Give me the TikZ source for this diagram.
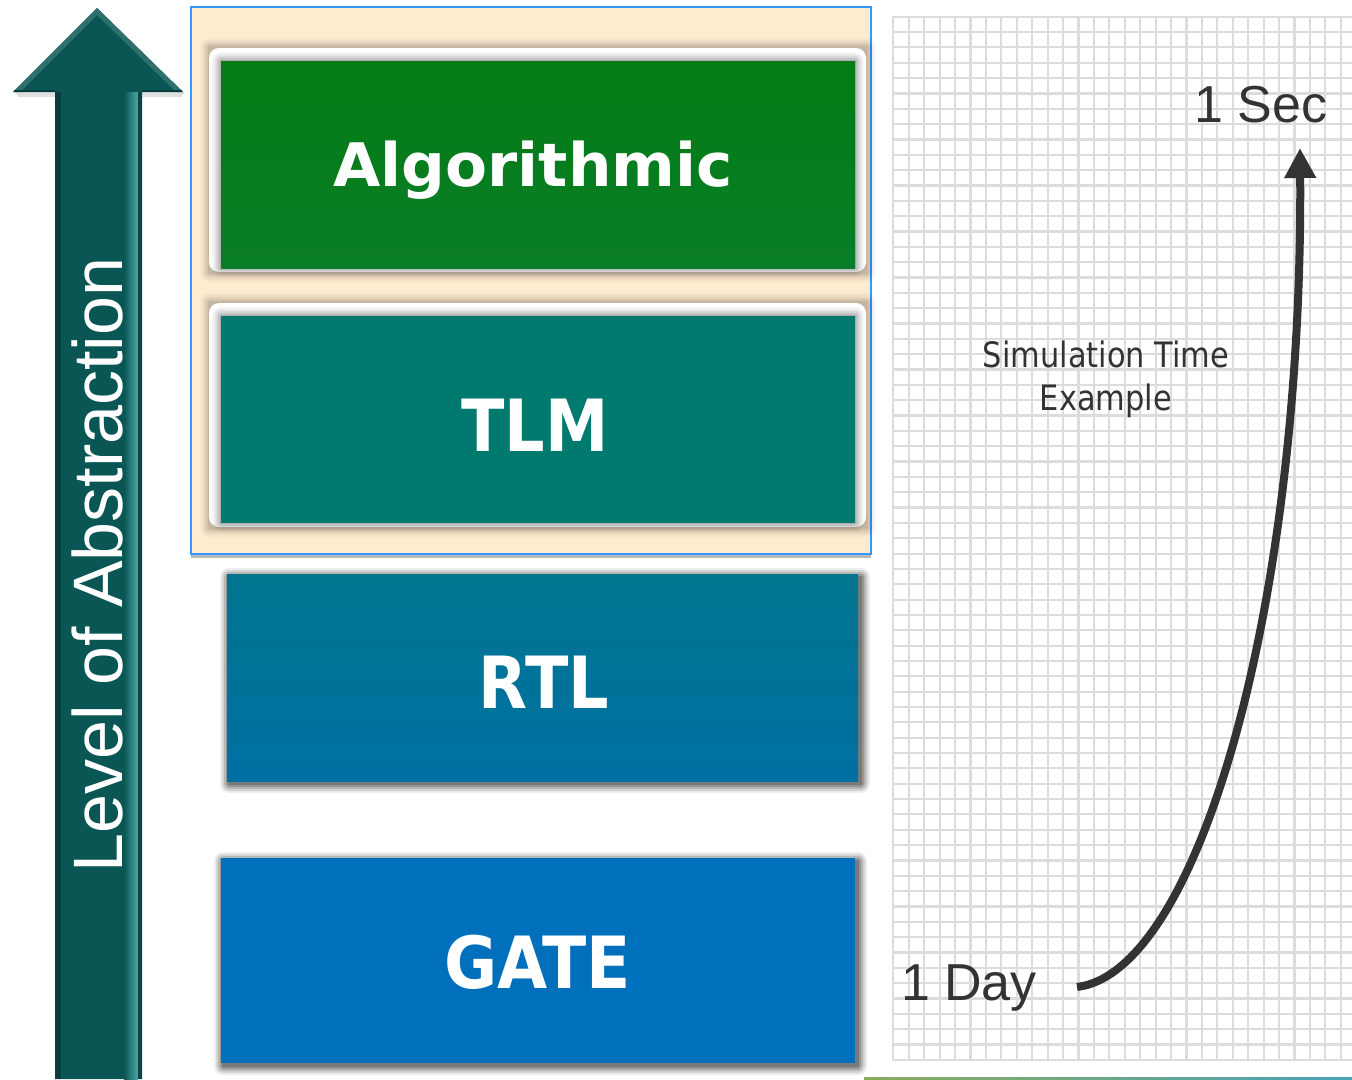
\documentclass[tikz,border=0pt]{standalone}
\usepackage{fontspec}
\setmainfont{Liberation Sans}
\newfontfamily\labelfont{DejaVu Sans}
\usetikzlibrary{arrows.meta}
\definecolor{arrowteal}{HTML}{0A5654}
\definecolor{arrowdark}{HTML}{073E3C}
\definecolor{arrowlight}{HTML}{4FA7A0}
\definecolor{beige}{HTML}{FFEBD0}
\definecolor{frameblue}{HTML}{3399FF}
\definecolor{algogreen}{HTML}{057C14}
\definecolor{algogreenb}{HTML}{0A7D28}
\definecolor{tlmteal}{HTML}{00796F}
\definecolor{rtltop}{HTML}{00758E}
\definecolor{rtlbot}{HTML}{0070A3}
\definecolor{gateblue}{HTML}{0070BC}
\definecolor{gridgray}{HTML}{DCDCDC}
\definecolor{inkgray}{HTML}{333333}
\definecolor{lineleft}{HTML}{8CAA5C}
\definecolor{lineright}{HTML}{4AA3B8}
\newcommand\softshade[5]{%
  \foreach \d/\o in {9/0.04,7/0.06,5/0.08,3/0.10,1/0.12}{%
    \fill[black,opacity=\o*#5,rounded corners=\d pt] (#1-\d,#2-\d) rectangle (#3+\d,#4+\d);}}
\begin{document}
\begin{tikzpicture}[x=1pt,y=-1pt,
  levelbox/.style={inner sep=0pt, minimum width=634pt, minimum height=207pt},
  boxlabel/.style={text=white, anchor=base, inner sep=0pt,
    font=\labelfont\bfseries\fontsize{60}{60}\selectfont},
  plainlabel/.style={text=inkgray, anchor=base, inner sep=0pt},
  gridline/.style={draw=gridgray, line width=2.2pt}]
\useasboundingbox (0,0) rectangle (1352,1079);
\fill[white] (0,0) rectangle (1352,1079);

% ---- grid ----
\foreach \i in {0,...,29}{
  \draw[gridline] (893.3+15.43*\i,16.7) -- (893.3+15.43*\i,1060);}
\foreach \j in {0,...,68}{
  \draw[gridline] (892,16.7+15.34*\j) -- (1352,16.7+15.34*\j);}
\shade[left color=lineleft, right color=lineright] (864,1077) rectangle (1352,1079);

% ---- abstraction arrow ----
\fill[black,opacity=0.12] (15,92) -- (55,92) -- (55,97) -- (19,97) -- cycle;
\fill[black,opacity=0.12] (142,92) -- (185,92) -- (181,97) -- (142,97) -- cycle;
\fill[arrowteal] (13,92) -- (97,8) -- (183,92) -- (142,92) -- (142,1079)
  -- (55,1079) -- (55,92) -- cycle;
\fill[arrowteal!85!white] (97,8) -- (183,92) -- (176,92) -- (97,15) -- cycle;
\fill[arrowteal!85!white] (97,8) -- (13,92) -- (20,92) -- (97,15) -- cycle;
\draw[arrowdark, line width=2pt] (14,91) -- (55,91);
\draw[arrowdark, line width=2pt] (142,91) -- (182,91);
\fill[arrowdark] (55,92) rectangle (61,1079);
\shade[left color=arrowteal, right color=arrowlight] (124,92) rectangle (138,1079);
\fill[arrowteal!80!black] (138,92) rectangle (142,1079);
\node[rotate=90, anchor=base, inner sep=0pt, text=white,
  font=\fontsize{70}{70}\selectfont] (abstr) at (122,565) {Level of Abstraction};

% ---- beige group ----
\fill[gray!55] (191,554) rectangle (871,558);
\filldraw[fill=beige, draw=frameblue, line width=1.5pt] (191,7) rectangle (871,554);

% Algorithmic frame
\softshade{209}{47}{867}{273}{0.6}
\fill[white, rounded corners=10pt] (209,48) rectangle (866,272);
\softshade{221}{61}{855}{268}{0.9}
\node[levelbox, top color=algogreen, bottom color=algogreenb] (algo) at (538,164.5) {};
\node[boxlabel] (algolbl) at (533,186) {\scalebox{1.02}[1]{Algorithmic}};

% TLM frame
\softshade{209}{302}{867}{528}{0.6}
\fill[white, rounded corners=10pt] (209,303) rectangle (866,527);
\softshade{221}{316}{855}{523}{0.9}
\node[levelbox, fill=tlmteal] (tlm) at (538,419.5) {};
\node[boxlabel] (tlmlbl) at (535,451) {\scalebox{1.06}[1.2]{TLM}};

% RTL
\softshade{229}{577}{861}{784}{1.7}
\node[levelbox, minimum width=631pt, top color=rtltop, bottom color=rtlbot] (rtl) at (542.5,677.5) {};
\node[boxlabel] (rtllbl) at (544,708) {\scalebox{1.06}[1.2]{RTL}};

% GATE
\softshade{223}{861}{858}{1066}{1.7}
\node[levelbox, minimum height=205pt, fill=gateblue] (gate) at (538,960.5) {};
\node[boxlabel] (gatelbl) at (537.5,988) {\scalebox{1.08}[1.2]{GATE}};

% ---- simulation time ----
\node[plainlabel, font=\fontsize{52}{52}\selectfont] (sec) at (1261,122) {1 Sec};
\node[plainlabel, font=\fontsize{52}{52}\selectfont] (day) at (969,1000) {1 Day};
\node[plainlabel, align=center, font=\labelfont\fontsize{35}{43}\selectfont]
  (simtime) at (1106,410) {\scalebox{0.87}[1]{Simulation Time}\\\scalebox{0.87}[1]{Example}};

\coordinate (curvestart) at (1077,987);
\coordinate (curveend) at (1300,148);
\draw[inkgray, line width=8pt, -{Triangle[length=30pt,width=30pt]}]
  (curvestart) .. controls (1200,972) and (1303,600) .. (curveend);
\end{tikzpicture}
\end{document}
